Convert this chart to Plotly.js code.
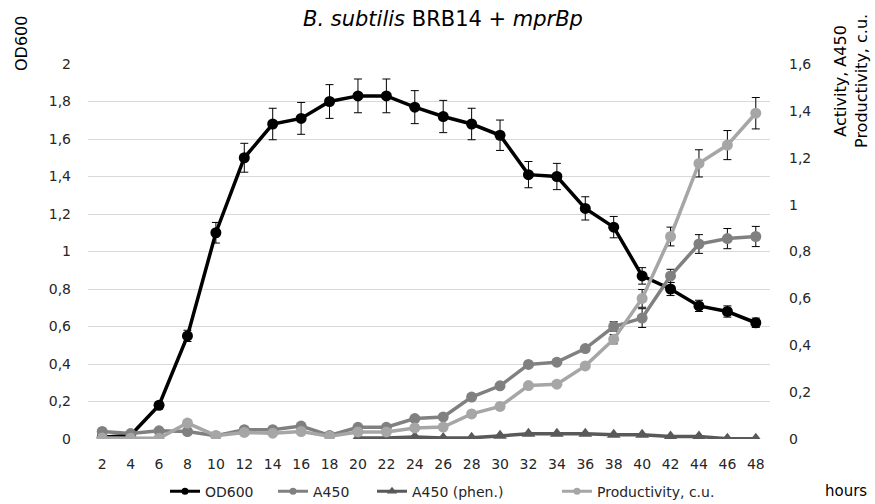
<!DOCTYPE html>
<html>
<head>
<meta charset="utf-8">
<script src="https://cdn.plot.ly/plotly-3.0.1.min.js"></script>
<style>html,body{margin:0;padding:0;background:#fff}#chart{width:875px;height:504px}</style>
</head>
<body>
<div id="chart"></div>
<script>
const hours = [2,4,6,8,10,12,14,16,18,20,22,24,26,28,30,32,34,36,38,40,42,44,46,48];
const od600 = [0.01,0.02,0.18,0.55,1.10,1.50,1.68,1.71,1.80,1.83,1.83,1.77,1.72,1.68,1.62,1.41,1.40,1.23,1.13,0.87,0.80,0.71,0.68,0.62];
const od600Err = [0.005,0.005,0.01,0.03,0.055,0.077,0.084,0.085,0.09,0.09,0.09,0.088,0.086,0.084,0.081,0.07,0.07,0.062,0.057,0.044,0.035,0.03,0.03,0.025];
const a450 = [0.032,0.023,0.035,0.032,0.014,0.04,0.04,0.055,0.015,0.05,0.05,0.087,0.094,0.179,0.227,0.318,0.328,0.386,0.48,0.516,0.696,0.832,0.855,0.864];
const a450Err = [0,0,0,0,0,0,0,0,0,0,0,0,0,0,0,0,0,0,0.02,0.04,0.028,0.04,0.043,0.043];
const phenHours = [20,22,24,26,28,30,32,34,36,38,40,42,44,46,48];
const a450Phen = [0.004,0.004,0.009,0.004,0.005,0.014,0.022,0.022,0.022,0.018,0.018,0.011,0.011,0.001,0.001];
const productivity = [0.004,0.003,0.003,0.068,0.014,0.028,0.025,0.032,0.012,0.03,0.03,0.047,0.051,0.107,0.139,0.228,0.234,0.312,0.426,0.6,0.864,1.176,1.254,1.39];
const prodErr = [0,0,0,0,0,0,0,0,0,0,0,0,0,0,0,0,0,0,0.02,0.038,0.04,0.058,0.062,0.067];
const leftTicks = [0,0.2,0.4,0.6,0.8,1,1.2,1.4,1.6,1.8,2];
const leftLabels = ['0','0,2','0,4','0,6','0,8','1','1,2','1,4','1,6','1,8','2'];
const rightTicks = [0,0.2,0.4,0.6,0.8,1,1.2,1.4,1.6];
const rightLabels = ['0','0,2','0,4','0,6','0,8','1','1,2','1,4','1,6'];
const seriesNames = ['OD600','A450','A450 (phen.)','Productivity, c.u.'];
const seriesColors = ['#000000','#808080','#595959','#a6a6a6'];
const seriesSymbols = ['circle','circle','triangle-up','circle'];

const font = '"DejaVu Sans", sans-serif';
const txt = '#262626';
const errStyle = arr => ({type:'data', array:arr, visible:true, color:'#000', thickness:1, width:4});

const dataY = [od600, a450, a450Phen, productivity];
const dataX = [hours, hours, phenHours, hours];
const dataErr = [od600Err, a450Err, null, prodErr];
const axes = ['y','y2','y2','y2'];
const legendIds = ['legend','legend2','legend3','legend4'];

const traces = [];
[1,2,3,0].forEach(i => {
  const t = {x:dataX[i], y:dataY[i], name:seriesNames[i], type:'scatter', mode:'lines+markers',
    line:{color:seriesColors[i], width:3.5}, marker:{color:seriesColors[i], size:i===2?12:11, symbol:seriesSymbols[i]},
    yaxis:axes[i], showlegend:false};
  if (dataErr[i]) t.error_y = errStyle(dataErr[i]);
  traces.push(t);
});
// legend entries (legend markers drawn smaller, as in the reference)
[0,1,2,3].forEach(i => {
  traces.push({x:[null], y:[null], name:seriesNames[i], type:'scatter', mode:'lines+markers',
    line:{color:seriesColors[i], width:3}, marker:{color:seriesColors[i], size:i===2?9:7, symbol:seriesSymbols[i]},
    yaxis:axes[i], showlegend:true, legend:legendIds[i]});
});

const plotL = 88, plotW = 682, plotB = 439.3, plotH = 375.3;
const px = v => (v - plotL) / plotW;
const py = v => (plotB - v) / plotH;
const textStarts = [205, 313, 412, 597];

const layout = {
  width:875, height:504,
  margin:{l:88, r:105, t:64, b:65, pad:0, autoexpand:false},
  paper_bgcolor:'#ffffff', plot_bgcolor:'#ffffff',
  font:{family:font, color:txt, size:14},
  title:{text:'<i>B. subtilis</i> BRB14 + <i>mprBp</i>', x:443/875, xanchor:'center', y:1-19/504, yanchor:'middle',
         font:{family:font, size:21, color:'#000000'}},
  showlegend:true,
  xaxis:{range:[1,49], tickmode:'array', tickvals:hours, ticktext:hours.map(String),
         showgrid:false, zeroline:false, showline:false, ticks:'', fixedrange:true, ticklabelstandoff:15,
         tickfont:{family:font, size:14, color:txt}},
  yaxis:{range:[0,2], tickmode:'array', tickvals:leftTicks, ticktext:leftLabels,
         showgrid:true, gridcolor:'#d9d9d9', gridwidth:1, zeroline:false, showline:false, ticks:'',
         ticklabelstandoff:16, tickfont:{family:font, size:14, color:txt}},
  yaxis2:{range:[0,1.6], overlaying:'y', side:'right', tickmode:'array', tickvals:rightTicks, ticktext:rightLabels,
          showgrid:false, zeroline:false, showline:false, ticks:'', ticklabelstandoff:18,
          tickfont:{family:font, size:14, color:txt}},
  annotations:[
    {text:'OD600', xref:'paper', yref:'paper', x:px(21.5), y:py(43.5), xanchor:'center', yanchor:'middle',
     textangle:-90, showarrow:false, font:{family:font, size:16, color:'#000000'}},
    {text:'Activity, A450<br>Productivity, c.u.', xref:'paper', yref:'paper', x:px(851), y:py(81),
     xanchor:'center', yanchor:'middle', align:'center',
     textangle:-90, showarrow:false, font:{family:font, size:16, color:'#000000'}},
    {text:'hours', xref:'paper', yref:'paper', x:px(823), y:py(491.5), xanchor:'left', yanchor:'middle',
     showarrow:false, font:{family:font, size:15, color:'#000000'}}
  ]
};
legendIds.forEach((id, i) => {
  layout[id] = {orientation:'h', x:px(textStarts[i] - 40), xanchor:'left', y:py(492), yanchor:'middle',
    font:{family:font, size:14, color:txt}, itemwidth:30, bgcolor:'rgba(0,0,0,0)'};
});

Plotly.newPlot('chart', traces, layout, {staticPlot:true, displayModeBar:false});
</script>
</body>
</html>
